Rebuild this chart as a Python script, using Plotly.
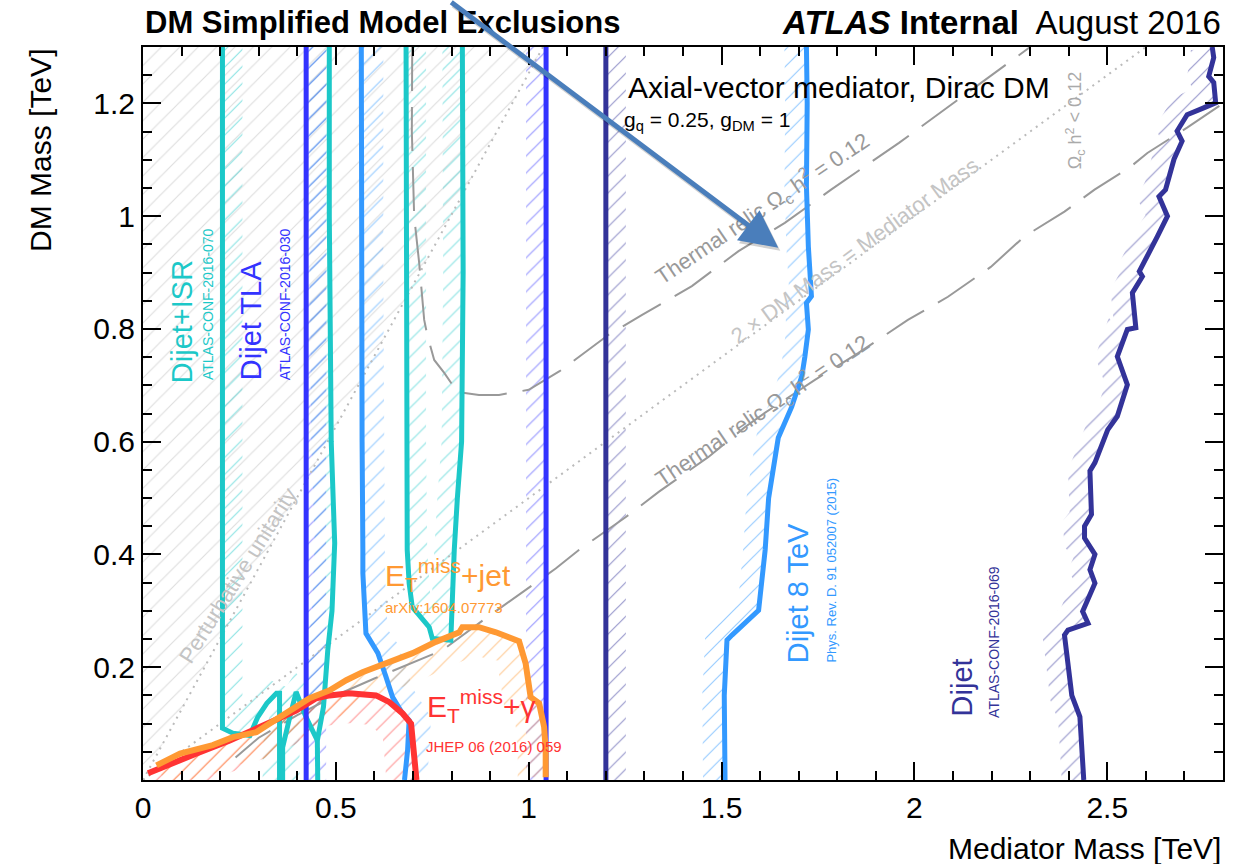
import numpy as np
import plotly.graph_objects as go

# ---------------- data (TeV) ----------------
X_RANGE = [0.0, 2.8]
Y_RANGE = [0.0, 1.3]

x_tickvals = [0, 0.5, 1, 1.5, 2, 2.5]
x_ticktext = ["0", "0.5", "1", "1.5", "2", "2.5"]
y_tickvals = [0.2, 0.4, 0.6, 0.8, 1.0, 1.2]
y_ticktext = ["0.2", "0.4", "0.6", "0.8", "1", "1.2"]

# reference lines
unitarity_x = [0.0, 1.037]
unitarity_y = [0.0, 1.3]
twodm_x = [0.0, 2.6]
twodm_y = [0.0, 1.3]

relic_upper_x = [0.698, 0.697, 0.703, 0.716, 0.729, 0.737, 0.755, 0.781, 0.815, 0.871, 0.923,
                 1.0, 1.08, 1.208, 1.294, 1.423, 1.544, 1.664, 1.784, 1.96, 2.12, 2.3]
relic_upper_y = [1.3, 1.15, 1.0, 0.917, 0.816, 0.789, 0.745, 0.722, 0.688, 0.683, 0.683,
                 0.692, 0.725, 0.79, 0.825, 0.876, 0.938, 0.988, 1.047, 1.13, 1.21, 1.3]
relic_lower_x = [0.24, 0.3, 0.4, 0.5, 0.6, 0.725, 0.776, 0.889, 0.983, 1.07, 1.13, 1.251, 1.337,
                 1.466, 1.561, 1.612, 1.743, 1.854, 1.983, 2.087, 2.198, 2.285, 2.389, 2.467,
                 2.561, 2.604, 2.707, 2.8]
relic_lower_y = [0.04, 0.075, 0.115, 0.15, 0.18, 0.216, 0.23, 0.287, 0.333, 0.375, 0.408, 0.466,
                 0.511, 0.573, 0.626, 0.651, 0.71, 0.757, 0.816, 0.857, 0.91, 0.964, 1.008,
                 1.047, 1.088, 1.112, 1.157, 1.2]

# Dijet+ISR (ATLAS-CONF-2016-070)
isr_a_x = [0.206, 0.206, 0.233, 0.277, 0.297, 0.321, 0.346, 0.354, 0.354]
isr_a_y = [1.3, 0.092, 0.083, 0.079, 0.111, 0.136, 0.154, 0.154, 0.0]
isr_b_x = [0.362, 0.362, 0.38, 0.397, 0.423, 0.452, 0.468, 0.479, 0.49, 0.497, 0.488, 0.485,
           0.483, 0.483]
isr_b_y = [0.0, 0.058, 0.11, 0.156, 0.111, 0.07, 0.13, 0.23, 0.3, 0.42, 0.6, 0.8, 1.0, 1.3]
isr_c_x = [0.452, 0.453]
isr_c_y = [0.07, 0.0]
isr_d_x = [0.682, 0.682, 0.685, 0.69, 0.698, 0.742, 0.75, 0.798, 0.802, 0.807, 0.815, 0.826,
           0.83, 0.828]
isr_d_y = [1.3, 0.6, 0.408, 0.349, 0.307, 0.271, 0.251, 0.248, 0.349, 0.408, 0.5, 0.6, 0.9, 1.3]

# Dijet TLA (ATLAS-CONF-2016-030)
tla_low_x = [0.423, 0.423]
tla_low_y = [1.3, 0.0]
tla_high_x = [1.045, 1.045]
tla_high_y = [0.0, 1.3]

# Dijet 8 TeV
d8_low_x = [0.566, 0.566, 0.568, 0.570, 0.570, 0.578, 0.609, 0.630, 0.647, 0.673, 0.690, 0.686, 0.678]
d8_low_y = [1.3, 0.9, 0.6, 0.408, 0.367, 0.260, 0.225, 0.183, 0.147, 0.118, 0.106, 0.053, 0.0]
d8_high_x = [1.509, 1.507, 1.514, 1.527, 1.596, 1.613, 1.622, 1.632, 1.647, 1.682, 1.708, 1.716,
             1.725, 1.72, 1.733, 1.725, 1.72, 1.722, 1.72]
d8_high_y = [0.0, 0.15, 0.248, 0.257, 0.301, 0.408, 0.5, 0.545, 0.607, 0.662, 0.716, 0.751,
             0.799, 0.846, 0.858, 0.946, 1.053, 1.2, 1.3]

# Dijet (ATLAS-CONF-2016-069)
dj_low_x = [1.2, 1.2]
dj_low_y = [1.3, 0.0]
dj_high_x = [2.439, 2.429, 2.408, 2.399, 2.389, 2.398, 2.450, 2.436, 2.468, 2.455, 2.468, 2.441,
             2.441, 2.459, 2.455, 2.468, 2.501, 2.526, 2.552, 2.526, 2.552, 2.574, 2.565, 2.591,
             2.583, 2.630, 2.656, 2.634, 2.651, 2.673, 2.694, 2.681, 2.707, 2.750, 2.781, 2.776,
             2.763, 2.776, 2.772]
dj_high_y = [0.0, 0.112, 0.150, 0.204, 0.257, 0.266, 0.278, 0.299, 0.349, 0.373, 0.400, 0.429,
             0.450, 0.471, 0.548, 0.563, 0.621, 0.645, 0.701, 0.751, 0.799, 0.802, 0.864, 0.893,
             0.902, 0.964, 1.000, 1.035, 1.047, 1.101, 1.133, 1.151, 1.180, 1.192, 1.201, 1.237,
             1.248, 1.281, 1.3]

# MET + jet (arXiv:1604.07773)
monojet_x = [0.035, 0.096, 0.181, 0.233, 0.268, 0.294, 0.328, 0.380, 0.432, 0.484, 0.527, 0.569,
             0.639, 0.699, 0.759, 0.820, 0.828, 0.871, 0.915, 0.975, 0.992, 1.005, 1.027, 1.040,
             1.044, 1.044]
monojet_y = [0.026, 0.047, 0.062, 0.076, 0.081, 0.085, 0.100, 0.123, 0.145, 0.159, 0.177, 0.191,
             0.209, 0.225, 0.245, 0.262, 0.271, 0.271, 0.262, 0.246, 0.207, 0.147, 0.136, 0.094,
             0.053, 0.005]

# MET + photon (JHEP 06 (2016) 059)
monophoton_x = [0.013, 0.052, 0.139, 0.225, 0.285, 0.346, 0.397, 0.449, 0.484, 0.535, 0.604,
                0.639, 0.673, 0.695, 0.703, 0.709]
monophoton_y = [0.012, 0.022, 0.047, 0.070, 0.088, 0.106, 0.123, 0.145, 0.150, 0.154, 0.150,
                0.138, 0.118, 0.100, 0.053, 0.0]

# ---------------- styles ----------------
C_ISR = "#1CC8C8"
C_TLA = "#3333FF"
C_D8 = "#3399FF"
C_DIJET = "#333399"
C_JET = "#FF9933"
C_GAMMA = "#FF3333"
C_RELIC = "#999999"
C_DOT = "#BBBBBB"
C_HATCH_GRAY = "#BDBDBD"

FONT = "Liberation Sans, Arial, Helvetica, sans-serif"

L_MARGIN, R_MARGIN, T_MARGIN, B_MARGIN = 143, 27, 47, 84
W, H = 1250, 864
PLOT_W = W - L_MARGIN - R_MARGIN
PLOT_H = H - T_MARGIN - B_MARGIN
SX = PLOT_W / (X_RANGE[1] - X_RANGE[0])
SY = PLOT_H / (Y_RANGE[1] - Y_RANGE[0])


def band(xs, ys, width_px, side):
    """Polygon of a hatched strip of given pixel width on one side of a contour.
    side=+1 puts the strip on the left-hand side of the walking direction."""
    X = np.asarray(xs, float) * SX
    Y = np.asarray(ys, float) * SY
    n = len(X)
    nx = np.zeros(n)
    ny = np.zeros(n)
    for i in range(n):
        i0, i1 = max(i - 1, 0), min(i + 1, n - 1)
        dx, dy = X[i1] - X[i0], Y[i1] - Y[i0]
        L = np.hypot(dx, dy) or 1.0
        nx[i], ny[i] = -dy / L, dx / L
    OX = X + side * width_px * nx
    OY = Y + side * width_px * ny
    px = np.concatenate([X, OX[::-1], X[:1]]) / SX
    py = np.concatenate([Y, OY[::-1], Y[:1]]) / SY
    return px, py


fig = go.Figure()


def add_hatch(px, py, color, size=12, solidity=0.1):
    fig.add_trace(go.Scatter(
        x=px, y=py, mode="lines", fill="toself",
        line=dict(width=0, color="rgba(0,0,0,0)"),
        fillcolor="rgba(0,0,0,0)",
        fillpattern=dict(shape="/", fgcolor=color, bgcolor="rgba(0,0,0,0)",
                         size=size, solidity=solidity),
        hoverinfo="skip", showlegend=False))


def add_line(xs, ys, color, width, dash="solid"):
    fig.add_trace(go.Scatter(
        x=xs, y=ys, mode="lines",
        line=dict(color=color, width=width, dash=dash),
        hoverinfo="skip", showlegend=False))


# perturbative-unitarity excluded wedge
add_hatch([unitarity_x[0], unitarity_x[1], 0.0, unitarity_x[0]],
          [unitarity_y[0], unitarity_y[1], Y_RANGE[1], unitarity_y[0]],
          C_HATCH_GRAY, size=13, solidity=0.09)

# hatched strips on the excluded side of each contour
contours = [
    (isr_a_x, isr_a_y, C_ISR, 20, +1),
    (isr_b_x, isr_b_y, C_ISR, 20, +1),
    (isr_d_x, isr_d_y, C_ISR, 20, +1),
    (tla_low_x, tla_low_y, C_TLA, 20, +1),
    (tla_high_x, tla_high_y, C_TLA, 20, +1),
    (d8_low_x, d8_low_y, C_D8, 22, +1),
    (d8_high_x, d8_high_y, C_D8, 22, +1),
    (dj_low_x, dj_low_y, C_DIJET, 20, +1),
    (dj_high_x, dj_high_y, C_DIJET, 22, +1),
    (monophoton_x, monophoton_y, C_GAMMA, 30, -1),
    (monojet_x, monojet_y, C_JET, 28, -1),
]
for xs, ys, col, w, side in contours:
    bx, by = band(xs, ys, w, side)
    add_hatch(bx, by, col, size=12, solidity=0.1)

# reference lines
add_line(unitarity_x, unitarity_y, C_DOT, 2, dash="2px,5px")
add_line(twodm_x, twodm_y, C_DOT, 2, dash="2px,5px")
add_line(relic_upper_x, relic_upper_y, C_RELIC, 2, dash="44px,16px")
add_line(relic_lower_x, relic_lower_y, C_RELIC, 2, dash="44px,16px")

# contour lines
for xs, ys in [(isr_a_x, isr_a_y), (isr_b_x, isr_b_y), (isr_c_x, isr_c_y), (isr_d_x, isr_d_y)]:
    add_line(xs, ys, C_ISR, 5)
add_line(tla_low_x, tla_low_y, C_TLA, 5)
add_line(tla_high_x, tla_high_y, C_TLA, 5)
add_line(d8_low_x, d8_low_y, C_D8, 5)
add_line(d8_high_x, d8_high_y, C_D8, 5)
add_line(dj_low_x, dj_low_y, C_DIJET, 5)
add_line(dj_high_x, dj_high_y, C_DIJET, 5)
add_line(monophoton_x, monophoton_y, C_GAMMA, 6)
add_line(monojet_x, monojet_y, C_JET, 6)

# ---------------- text ----------------
ann = []


def text(x, y, s, size, color="black", angle=0, xanchor="center", yanchor="middle",
         xref="x", yref="y"):
    ann.append(dict(x=x, y=y, xref=xref, yref=yref, text=s, showarrow=False,
                    font=dict(family=FONT, size=size, color=color),
                    textangle=angle, xanchor=xanchor, yanchor=yanchor))


text(0.101, 0.701, "Dijet+ISR", 29, C_ISR, -90, yanchor="bottom")
text(0.170, 0.705, "ATLAS-CONF-2016-070", 14, C_ISR, -90, yanchor="bottom")
text(0.282, 0.706, "Dijet TLA", 29, C_TLA, -90, yanchor="bottom")
text(0.370, 0.705, "ATLAS-CONF-2016-030", 14, C_TLA, -90, yanchor="bottom")
text(1.699, 0.204, "Dijet 8 TeV", 29, C_D8, -90, yanchor="bottom")
text(1.784, 0.204, "Phys. Rev. D. 91 052007 (2015)", 13, C_D8, -90, yanchor="bottom")
text(2.123, 0.109, "Dijet", 29, C_DIJET, -90, yanchor="bottom")
text(2.208, 0.106, "ATLAS-CONF-2016-069", 14, C_DIJET, -90, yanchor="bottom")

text(0.622, 0.363, "E<sub>T</sub><sup>miss</sup>+jet", 30, C_JET, xanchor="left")
text(0.622, 0.306, "arXiv:1604.07773", 15, C_JET, xanchor="left")
text(0.731, 0.132, "E<sub>T</sub><sup>miss</sup>+γ", 30, C_GAMMA, xanchor="left")
text(0.729, 0.059, "JHEP 06 (2016) 059", 15, C_GAMMA, xanchor="left")

text(1.605, 1.014, "Thermal relic Ω<sub>c</sub> h<sup>2</sup> = 0.12", 22, C_RELIC, -34)
text(1.605, 0.656, "Thermal relic Ω<sub>c</sub> h<sup>2</sup> = 0.12", 22, C_RELIC, -34)
text(1.846, 0.939, "2 × DM Mass = Mediator Mass", 22, "#C4C4C4", -36)
text(0.246, 0.363, "Perturbative unitarity", 22, "#C4C4C4", -58)
text(2.416, 1.17, "Ω<sub>c</sub> h<sup>2</sup> < 0.12", 18, "#AAAAAA", -90)

text(1.252, 1.228, "Axial-vector mediator, Dirac DM", 30, "black", xanchor="left")
text(1.242, 1.168, "g<sub>q</sub> = 0.25, g<sub>DM</sub> = 1", 21, "black", xanchor="left")

# header and axis titles (paper coordinates)
text(0.0, 1.034, "<b>DM Simplified Model Exclusions</b>", 31, "black",
     xanchor="left", xref="paper", yref="paper")
text(1.0, 1.034, "<b><i>ATLAS</i> Internal</b>  August 2016", 33, "black",
     xanchor="right", xref="paper", yref="paper")
text(-0.095, 1.0, "DM Mass [TeV]", 30, "black", -90, yanchor="top",
     xref="paper", yref="paper")
text(1.0, -0.093, "Mediator Mass [TeV]", 30, "black", xanchor="right",
     xref="paper", yref="paper")

# pointer arrow with a soft shadow
for col, xs, ys in [("rgba(0,0,0,0.18)", 2, -3), ("#4A7EBB", 0, 0)]:
    ann.append(dict(x=1.647, y=0.944, xref="x", yref="y", ax=-330, ay=-267,
                    axref="pixel", ayref="pixel", text=" ", showarrow=True,
                    arrowhead=2, arrowsize=1.5, arrowwidth=5, arrowcolor=col,
                    standoff=0, xshift=xs, yshift=ys))

axis_common = dict(showgrid=False, zeroline=False, showline=True, linecolor="black",
                   linewidth=2, mirror="ticks", ticks="inside", ticklen=18, tickwidth=2,
                   tickcolor="black",
                   tickfont=dict(family=FONT, size=30, color="black"))

fig.update_layout(
    width=W, height=H,
    margin=dict(l=L_MARGIN, r=R_MARGIN, t=T_MARGIN, b=B_MARGIN),
    paper_bgcolor="white", plot_bgcolor="white",
    showlegend=False,
    annotations=ann,
    xaxis=dict(range=X_RANGE, tickmode="array", tickvals=x_tickvals, ticktext=x_ticktext,
               minor=dict(tickmode="linear", tick0=0, dtick=0.1, ticks="inside", ticklen=9,
                          tickwidth=2, tickcolor="black"),
               **axis_common),
    yaxis=dict(range=Y_RANGE, tickmode="array", tickvals=y_tickvals, ticktext=y_ticktext,
               minor=dict(tickmode="linear", tick0=0, dtick=0.05, ticks="inside", ticklen=9,
                          tickwidth=2, tickcolor="black"),
               **axis_common),
)

fig.write_html("out.html")
